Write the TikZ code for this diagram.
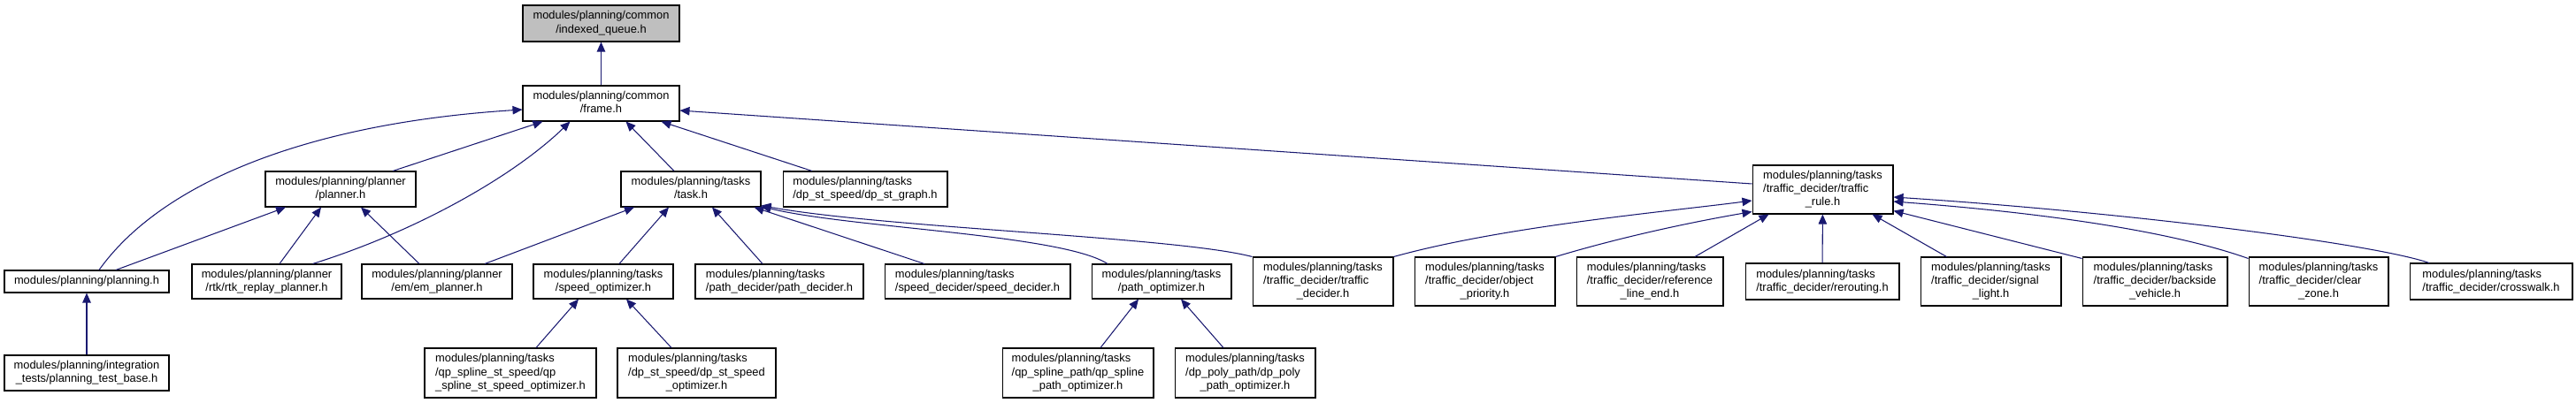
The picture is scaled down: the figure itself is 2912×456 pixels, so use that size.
\documentclass[tikz,border=0pt]{standalone}
\usepackage{fontspec}
\setmainfont{Liberation Sans}
\usetikzlibrary{arrows.meta,calc}
\definecolor{edgeblue}{HTML}{191970}
\definecolor{rootgray}{HTML}{BFBFBF}
\newcommand{\fname}[2]{\begin{tabular}{@{}l@{}}#1\\\multicolumn{1}{@{}c@{}}{#2}\end{tabular}}
\tikzset{
  filebox/.style={
    draw=black,
    line width=0.6pt,
    fill=white,
    inner sep=0pt,
    minimum height=0.8cm,
    font=\fontsize{7.33}{8.54}\selectfont
  },
  tallbox/.style={filebox,minimum height=1.1cm},
  flatbox/.style={filebox,minimum height=0.5cm},
  deparrow/.style={-{Triangle[length=0.22cm,width=0.19cm]},line width=0.6pt,draw=edgeblue}
}

\begin{document}
\begin{tikzpicture}[x=0.02cm,y=-0.02cm]
\useasboundingbox (0,0) rectangle (2912,456);
% top rows
\node[filebox,fill=rootgray,minimum width=3.54cm,minimum height=0.82cm] (queue) at (679.5,26.5) {\fname{modules/planning/common}{/indexed\_queue.h}};
\node[filebox,minimum width=3.54cm] (frame) at (679.5,117) {\fname{modules/planning/common}{/frame.h}};
\node[filebox,minimum width=3.4cm] (planner) at (385,214) {\fname{modules/planning/planner}{/planner.h}};
\node[filebox,minimum width=3.16cm] (task) at (781,214) {\fname{modules/planning/tasks}{/task.h}};
\node[filebox,minimum width=3.72cm] (stgraph) at (978,214) {\fname{modules/planning/tasks}{/dp\_st\_speed/dp\_st\_graph.h}};
\node[tallbox,minimum width=3.18cm] (trule) at (2060.5,214.5) {\fname{modules/planning/tasks\\/traffic\_decider/traffic}{\_rule.h}};
% third row
\node[flatbox,minimum width=3.72cm] (planning) at (98,318.5) {modules/planning/planning.h};
\node[filebox,minimum width=3.38cm,minimum height=0.78cm] (rtk) at (301.5,318.5) {\fname{modules/planning/planner}{/rtk/rtk\_replay\_planner.h}};
\node[filebox,minimum width=3.4cm,minimum height=0.78cm] (em) at (494,318.5) {\fname{modules/planning/planner}{/em/em\_planner.h}};
\node[filebox,minimum width=3.16cm,minimum height=0.78cm] (spdopt) at (682,318.5) {\fname{modules/planning/tasks}{/speed\_optimizer.h}};
\node[filebox,minimum width=3.8cm,minimum height=0.78cm] (pathdec) at (881,318.5) {\fname{modules/planning/tasks}{/path\_decider/path\_decider.h}};
\node[filebox,minimum width=4.2cm,minimum height=0.78cm] (spddec) at (1105,318.5) {\fname{modules/planning/tasks}{/speed\_decider/speed\_decider.h}};
\node[filebox,minimum width=3.16cm,minimum height=0.78cm] (pathopt) at (1313,318.5) {\fname{modules/planning/tasks}{/path\_optimizer.h}};
\node[tallbox,minimum width=3.18cm] (tdecider) at (1495.5,318.5) {\fname{modules/planning/tasks\\/traffic\_decider/traffic}{\_decider.h}};
\node[tallbox,minimum width=3.18cm] (objprio) at (1678.5,318.5) {\fname{modules/planning/tasks\\/traffic\_decider/object}{\_priority.h}};
\node[tallbox,minimum width=3.32cm] (refend) at (1865,318.5) {\fname{modules/planning/tasks\\/traffic\_decider/reference}{\_line\_end.h}};
\node[filebox,minimum width=3.48cm,minimum height=0.82cm] (reroute) at (2060,318.5) {\fname{modules/planning/tasks}{/traffic\_decider/rerouting.h}};
\node[tallbox,minimum width=3.18cm] (signal) at (2250.5,318.5) {\fname{modules/planning/tasks\\/traffic\_decider/signal}{\_light.h}};
\node[tallbox,minimum width=3.28cm] (backside) at (2436,318.5) {\fname{modules/planning/tasks\\/traffic\_decider/backside}{\_vehicle.h}};
\node[tallbox,minimum width=3.16cm] (clearzone) at (2621,318.5) {\fname{modules/planning/tasks\\/traffic\_decider/clear}{\_zone.h}};
\node[filebox,minimum width=3.68cm,minimum height=0.82cm] (crosswalk) at (2816,318.5) {\fname{modules/planning/tasks}{/traffic\_decider/crosswalk.h}};
% bottom row
\node[filebox,minimum width=3.72cm] (testbase) at (98,422) {\fname{modules/planning/integration}{\_tests/planning\_test\_base.h}};
\node[filebox,minimum width=3.88cm,minimum height=1.12cm] (qpst) at (577,422) {\fname{modules/planning/tasks\\/qp\_spline\_st\_speed/qp}{\_spline\_st\_speed\_optimizer.h}};
\node[filebox,minimum width=3.58cm,minimum height=1.12cm] (dpst) at (787.5,422) {\fname{modules/planning/tasks\\/dp\_st\_speed/dp\_st\_speed}{\_optimizer.h}};
\node[filebox,minimum width=3.42cm,minimum height=1.12cm] (qppath) at (1218.5,422) {\fname{modules/planning/tasks\\/qp\_spline\_path/qp\_spline}{\_path\_optimizer.h}};
\node[filebox,minimum width=3.18cm,minimum height=1.12cm] (dppath) at (1407.5,422) {\fname{modules/planning/tasks\\/dp\_poly\_path/dp\_poly}{\_path\_optimizer.h}};
% includes of frame.h
\draw[deparrow] (frame) -- (queue);
\draw[deparrow] ($(planning.north)+(14,0)$) .. controls (180,210) and (340,140) .. ($(frame.west)+(0,7)$);
\draw[deparrow] ($(planner.north)+(59,0)$) -- ($(frame.south)+(-66,0)$);
\draw[deparrow] ($(rtk.north)+(52,0)$) .. controls (470,262) and (580,200) .. ($(frame.south)+(-35,0)$);
\draw[deparrow] ($(task.north)+(-19,0)$) -- ($(frame.south)+(28,0)$);
\draw[deparrow] ($(stgraph.north)+(-60,0)$) -- ($(frame.south)+(68,0)$);
\draw[deparrow] ($(trule.west)+(0,-6.5)$) -- ($(frame.east)+(0,8)$);
% includes of planner.h
\draw[deparrow] ($(planning.north)+(33,0)$) -- ($(planner.south)+(-62,0)$);
\draw[deparrow] ($(rtk.north)+(14.5,0)$) -- ($(planner.south)+(-22,0)$);
\draw[deparrow] ($(em.north)+(-20,0)$) -- ($(planner.south)+(23,0)$);
% includes of task.h
\draw[deparrow] ($(em.north)+(54,0)$) -- ($(task.south)+(-64,0)$);
\draw[deparrow] ($(spdopt.north)+(18,0)$) -- ($(task.south)+(-25,0)$);
\draw[deparrow] ($(pathdec.north)+(-19,0)$) -- ($(task.south)+(24,0)$);
\draw[deparrow] ($(spddec.north)+(-60,0)$) -- ($(task.south east)+(-8,0)$);
\draw[deparrow] ($(pathopt.north)+(-61,0)$) .. controls (1200,265) and (960,258) .. ($(task.south east)+(0,-1)$);
\draw[deparrow] (tdecider.north west) .. controls (1330,268) and (1000,258) .. ($(task.south east)+(0,-2)$);
% includes of traffic_rule.h
\draw[deparrow] (tdecider.north east) .. controls (1700,256) and (1880,240) .. ($(trule.west)+(0,12.5)$);
\draw[deparrow] (objprio.north east) .. controls (1840,266) and (1920,250) .. ($(trule.south west)+(0,-3)$);
\draw[deparrow] ($(refend.north)+(51,0)$) -- ($(trule.south west)+(19,0)$);
\draw[deparrow] (reroute) -- (trule);
\draw[deparrow] ($(signal.north)+(-50,0)$) -- ($(trule.south east)+(-24,0)$);
\draw[deparrow] ($(backside.north west)+(0,2)$) -- ($(trule.south east)+(0,-4)$);
\draw[deparrow] ($(clearzone.north west)+(0,2)$) .. controls (2450,260) and (2300,240) .. ($(trule.east)+(0,13.5)$);
\draw[deparrow] ($(crosswalk.north)+(-70,0)$) .. controls (2680,275) and (2400,240) .. ($(trule.east)+(0,8.5)$);
% lowest row
\draw[deparrow] (testbase) -- (planning);
\draw[deparrow] ($(qpst.north)+(29,0)$) -- ($(spdopt.south)+(-28,0)$);
\draw[deparrow] ($(dpst.north)+(-28.5,0)$) -- ($(spdopt.south)+(26,0)$);
\draw[deparrow] ($(qppath.north)+(25.5,0)$) -- ($(pathopt.south)+(-26,0)$);
\draw[deparrow] ($(dppath.north)+(-24.5,0)$) -- ($(pathopt.south)+(22,0)$);
\end{tikzpicture}
\end{document}
